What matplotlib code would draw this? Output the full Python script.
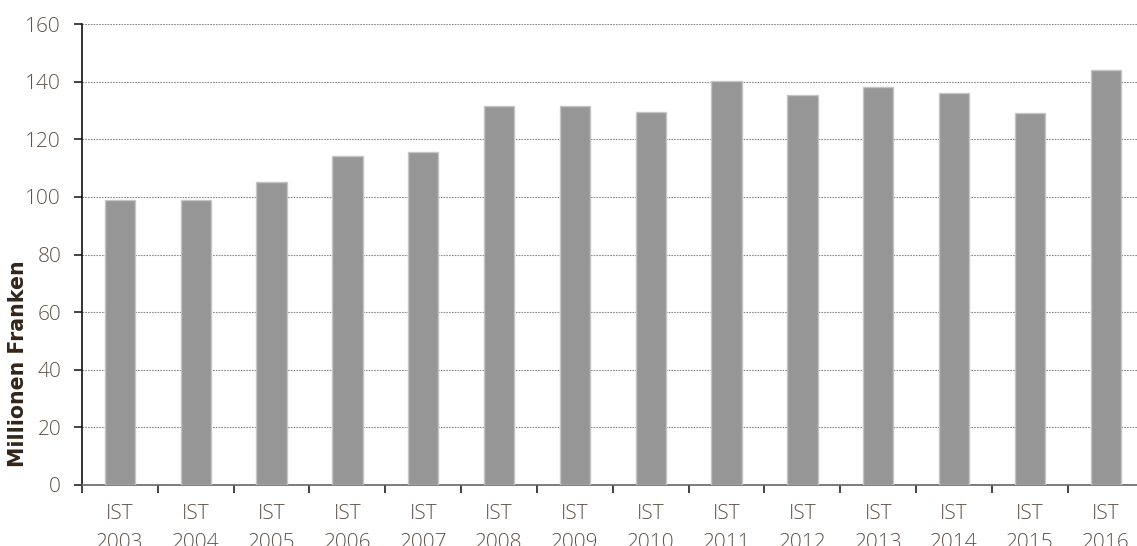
import matplotlib
matplotlib.use("Agg")
import matplotlib.pyplot as plt
import numpy as np

years = ["2003", "2004", "2005", "2006", "2007", "2008", "2009",
         "2010", "2011", "2012", "2013", "2014", "2015", "2016"]
values = [99.0, 98.8, 105.2, 114.1, 115.5, 131.7, 131.6,
          129.4, 140.3, 135.5, 138.0, 136.0, 129.0, 144.0]
tick_labels = [f"IST\n{y}" for y in years]
y_ticks = [0, 20, 40, 60, 80, 100, 120, 140, 160]

text_color = "#5e534b"
plt.rcParams["font.family"] = ["Open Sans", "DejaVu Sans"]

W, H = 1137, 546
fig = plt.figure(figsize=(W / 100, H / 100), dpi=100)
ax = fig.add_axes([82 / W, 61 / H, 1061.6 / W, 461 / H])

x = np.arange(len(values))
ax.bar(x, values, width=0.4, color="#969696", edgecolor="#c4c4c4",
       linewidth=1.0, zorder=3)

ax.set_xlim(-0.5, len(values) - 0.5)
ax.set_ylim(0, 160)
ax.set_yticks(y_ticks)
ax.set_yticklabels([str(t) for t in y_ticks], fontsize=15,
                   color=text_color, fontweight="light")

# category labels centred on bars, ticks on the boundaries
ax.set_xticks(x)
ax.set_xticklabels(tick_labels, fontsize=15, color=text_color,
                   fontweight="light", linespacing=1.6)
ax.set_xticks(np.arange(-0.5, len(values) + 0.5, 1.0), minor=True)
ax.tick_params(axis="x", which="major", length=0, pad=14)
ax.tick_params(axis="x", which="minor", length=6, width=1.2,
               color="#222222", direction="out")
ax.tick_params(axis="y", length=6, width=1.2, color="#222222",
               direction="out", pad=9)

ax.yaxis.grid(True, color="#8a8a8a", linestyle=(0, (1.5, 1)),
              linewidth=0.8, zorder=0)
ax.set_axisbelow(True)

for side in ("top", "right"):
    ax.spines[side].set_visible(False)
ax.spines["left"].set_color("#111111")
ax.spines["left"].set_linewidth(1.2)
ax.spines["bottom"].set_color("#666666")
ax.spines["bottom"].set_linewidth(1.2)

fig.text(18 / W, 1 - 364 / H, "Millionen Franken", rotation=90,
         ha="center", va="center", fontsize=14.8, fontweight="bold",
         color="#33251a", family=["DejaVu Sans"])

fig.savefig("out.png", dpi=100)
